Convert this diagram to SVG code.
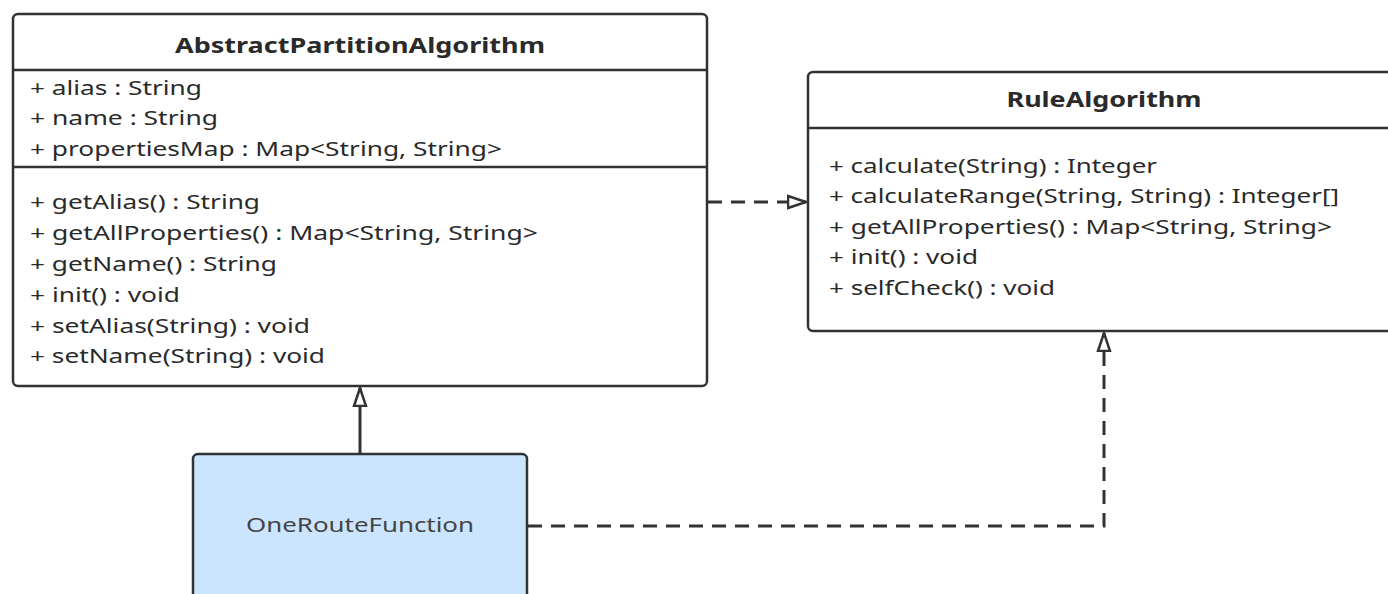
<svg xmlns="http://www.w3.org/2000/svg" width="1388" height="594" viewBox="0 0 1388 594">
<defs>
<style>
.box{fill:#ffffff;stroke:#323232;stroke-width:2.5}
.blue{fill:#cce5fe;stroke:#323232;stroke-width:2.5}
.div{stroke:#323232;stroke-width:2.5}
.t{font-family:"Noto Sans","Open Sans",sans-serif;font-size:20px;fill:#2a2a2a}
.h{font-family:"Noto Sans","Open Sans",sans-serif;font-size:20.5px;font-weight:bold;fill:#2a2a2a;text-anchor:middle}
.c{font-family:"Noto Sans","Open Sans",sans-serif;font-size:20.5px;fill:#444;text-anchor:middle}
.ln{fill:none;stroke:#323232;stroke-width:3}
.dash{stroke-dasharray:14 9}
</style>
<marker id="tri" viewBox="0 0 20 16" refX="19" refY="8" markerWidth="20" markerHeight="16" markerUnits="userSpaceOnUse" orient="auto">
<path d="M1,2 L19,8 L1,14 Z" fill="#ffffff" stroke="#323232" stroke-width="2.5"/>
</marker>
</defs>
<rect width="1388" height="594" fill="#ffffff"/>
<g id="connectors">
<path class="ln" d="M360,454 L360,388" marker-end="url(#tri)"/>
<path class="ln dash" d="M708,202 L806,202" marker-end="url(#tri)"/>
<path class="ln dash" d="M528,526 L1104,526 L1104,333" marker-end="url(#tri)"/>
</g>
<g id="AbstractPartitionAlgorithm">
<rect class="box" x="13" y="14" width="694" height="372" rx="5"/>
<line class="div" x1="13" y1="70" x2="707" y2="70"/>
<line class="div" x1="13" y1="167" x2="707" y2="167"/>
<text class="h" x="360" y="53" textLength="370" lengthAdjust="spacingAndGlyphs">AbstractPartitionAlgorithm</text>
<text class="t" x="30" y="95" textLength="172" lengthAdjust="spacingAndGlyphs">+ alias : String</text>
<text class="t" x="30" y="125" textLength="188" lengthAdjust="spacingAndGlyphs">+ name : String</text>
<text class="t" x="30" y="156" textLength="472" lengthAdjust="spacingAndGlyphs">+ propertiesMap : Map&lt;String, String&gt;</text>
<text class="t" x="30" y="209" textLength="230" lengthAdjust="spacingAndGlyphs">+ getAlias() : String</text>
<text class="t" x="30" y="240" textLength="508" lengthAdjust="spacingAndGlyphs">+ getAllProperties() : Map&lt;String, String&gt;</text>
<text class="t" x="30" y="271" textLength="247" lengthAdjust="spacingAndGlyphs">+ getName() : String</text>
<text class="t" x="30" y="302" textLength="150" lengthAdjust="spacingAndGlyphs">+ init() : void</text>
<text class="t" x="30" y="333" textLength="280" lengthAdjust="spacingAndGlyphs">+ setAlias(String) : void</text>
<text class="t" x="30" y="363" textLength="295" lengthAdjust="spacingAndGlyphs">+ setName(String) : void</text>
</g>
<g id="RuleAlgorithm">
<rect class="box" x="808" y="72" width="590" height="259" rx="5"/>
<line class="div" x1="808" y1="128" x2="1388" y2="128"/>
<text class="h" x="1104" y="107" textLength="195" lengthAdjust="spacingAndGlyphs">RuleAlgorithm</text>
<text class="t" x="829" y="173" textLength="328" lengthAdjust="spacingAndGlyphs">+ calculate(String) : Integer</text>
<text class="t" x="829" y="203" textLength="510" lengthAdjust="spacingAndGlyphs">+ calculateRange(String, String) : Integer[]</text>
<text class="t" x="829" y="234" textLength="503" lengthAdjust="spacingAndGlyphs">+ getAllProperties() : Map&lt;String, String&gt;</text>
<text class="t" x="829" y="264" textLength="149" lengthAdjust="spacingAndGlyphs">+ init() : void</text>
<text class="t" x="829" y="295" textLength="226" lengthAdjust="spacingAndGlyphs">+ selfCheck() : void</text>
</g>
<g id="OneRouteFunction">
<rect class="blue" x="193" y="454" width="334" height="160" rx="5"/>
<text class="c" x="360" y="532" textLength="228" lengthAdjust="spacingAndGlyphs">OneRouteFunction</text>
</g>
</svg>
